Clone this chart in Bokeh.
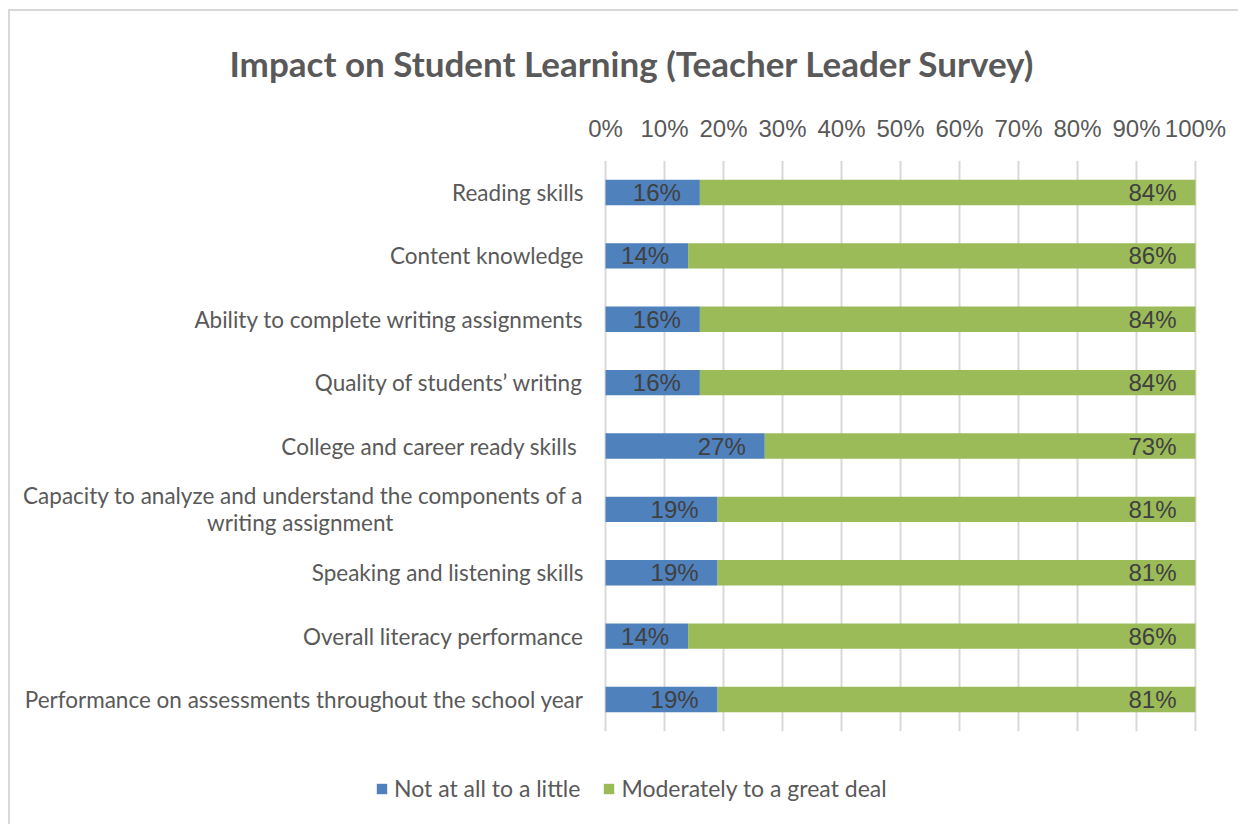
from bokeh.plotting import figure
from bokeh.models import (Range1d, Legend, LegendItem, Title,
                          ColumnDataSource, FixedTicker, CustomJSTickFormatter)
from bokeh.core.properties import value
from bokeh.embed import file_html
from bokeh.resources import INLINE

# ---- data (top to bottom as in the chart) ----
categories = [
    "Reading skills",
    "Content knowledge",
    "Ability to complete writing assignments",
    "Quality of students\u2019 writing",
    "College and career ready skills ",
    "Capacity to analyze and understand the components of a\nwriting assignment",
    "Speaking and listening skills",
    "Overall literacy performance",
    "Performance on assessments throughout the school year",
]
not_at_all = [16, 14, 16, 16, 27, 19, 19, 14, 19]
moderately = [84, 86, 84, 84, 73, 81, 81, 86, 81]
series_names = ["Not at all to a little", "Moderately to a great deal"]
x_ticks = [0, 10, 20, 30, 40, 50, 60, 70, 80, 90, 100]
title_text = "Impact on Student Learning (Teacher Leader Survey)"

BLUE = "#4F81BD"
GREEN = "#9BBB59"
GREY = "#595959"
DARK = "#404040"
CAT_FONT = "Lato"
NUM_FONT = "Liberation Sans"

n = len(categories)
ypos = [n - 1 - i for i in range(n)]  # top category highest


def centre_lines(s):
    # pad the shorter line of a two-line label so both lines look centred
    if "\n" not in s:
        return s
    a, b = s.split("\n")
    return a + "\n" + b + "\u00a0" * 33


src = ColumnDataSource(dict(
    y=ypos,
    cat=[centre_lines(c) for c in categories],
    a_end=not_at_all,
    b_end=[x + y for x, y in zip(not_at_all, moderately)],
    a_lbl=[f"{v}%" for v in not_at_all],
    b_lbl=[f"{v}%" for v in moderately],
))
grid_src = ColumnDataSource(dict(x=x_ticks, y0=[-0.5] * len(x_ticks), y1=[n - 0.5] * len(x_ticks)))

p = figure(width=1230, height=815,
           x_range=Range1d(-100.85, 107.63), y_range=Range1d(-2.004, 8.505),
           output_backend="svg", toolbar_location=None,
           x_axis_location="above", y_axis_location=None,
           min_border_left=0, min_border_right=0, min_border_top=149, min_border_bottom=0)
p.margin = (9, 0, 0, 8)
p.styles = {"border-left": "2px solid #d9d9d9", "border-top": "2px solid #d9d9d9"}
p.outline_line_color = None
p.background_fill_color = "white"
p.border_fill_color = "white"
p.xgrid.visible = False
p.ygrid.visible = False

# gridlines limited to the category band
p.segment(x0="x", x1="x", y0="y0", y1="y1", source=grid_src, line_color="#d9d9d9", line_width=2)

r1 = p.hbar(y="y", left=0, right="a_end", height=0.4, color=BLUE, line_color=None, source=src)
r2 = p.hbar(y="y", left="a_end", right="b_end", height=0.4, color=GREEN, line_color=None, source=src)

p.text(x="a_end", y="y", text="a_lbl", source=src, text_align="right", text_baseline="middle",
       x_offset=-19, text_font=value(NUM_FONT), text_font_size="24px", text_color=DARK)
p.text(x="b_end", y="y", text="b_lbl", source=src, text_align="right", text_baseline="middle",
       x_offset=-19, text_font=value(NUM_FONT), text_font_size="24px", text_color=DARK)

# category labels
p.text(x=0, y="y", text="cat", source=src, text_align="right", text_baseline="middle",
       x_offset=-22, text_font=value(CAT_FONT), text_font_size="22.5px", text_color=GREY,
       text_line_height=1.0)

# top axis
xa = p.xaxis[0]
xa.ticker = FixedTicker(ticks=x_ticks)
xa.formatter = CustomJSTickFormatter(code="return tick + '%';")
xa.axis_line_color = None
xa.major_tick_line_color = None
xa.minor_tick_line_color = None
xa.major_label_text_font = NUM_FONT
xa.major_label_text_font_size = "24px"
xa.major_label_text_color = GREY
xa.major_label_standoff = 13

# title
p.add_layout(Title(text=title_text, align="left", offset=219, standoff=56,
                   text_font=CAT_FONT, text_font_size="35px", text_font_style="bold",
                   text_color=GREY), "above")

# legend
legend = Legend(items=[LegendItem(label=series_names[0], renderers=[r1]),
                       LegendItem(label=series_names[1], renderers=[r2])],
                location=(365, 24), orientation="horizontal",
                glyph_width=13, glyph_height=13, label_standoff=6, spacing=22,
                padding=0, margin=0, border_line_color=None, background_fill_alpha=0,
                label_text_font=CAT_FONT, label_text_font_size="23px", label_text_color=GREY)
p.add_layout(legend, "center")

open("out.html", "w").write(file_html(p, INLINE))
